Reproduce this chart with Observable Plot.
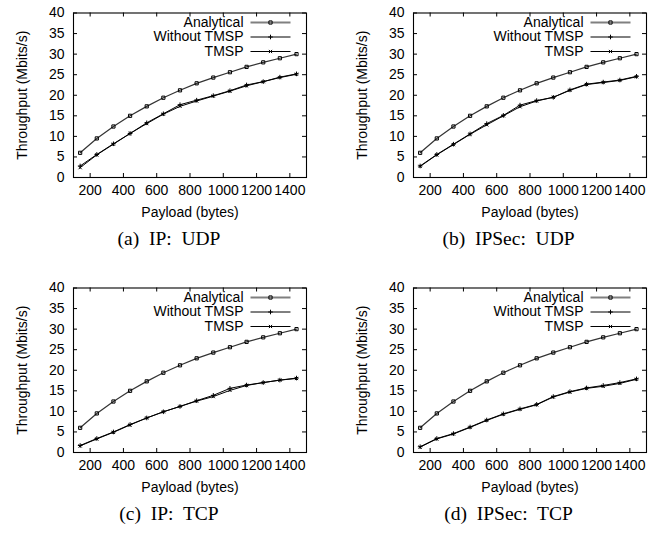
<!DOCTYPE html>
<html><head><meta charset="utf-8">
<script src="https://cdn.jsdelivr.net/npm/d3@7"></script>
<script src="https://cdn.jsdelivr.net/npm/@observablehq/plot@0.6"></script>
<style>
body{margin:0;background:#fff;}
#root{position:relative;width:663px;height:533px;overflow:hidden;background:#fff;}
.cell{position:absolute;width:323px;}
.cell svg{display:block;}
.cap{position:absolute;left:0;width:338px;top:224px;font-family:"Liberation Serif","Times New Roman",serif;font-size:19.5px;line-height:30px;text-align:center;white-space:pre;color:#000;}
</style></head><body><div id="root"></div>
<script>
// ---- data ----
const payload = [140, 240, 340, 440, 540, 640, 740, 840, 940, 1040, 1140, 1240, 1340, 1440];
const seriesNames = ["Analytical", "Without TMSP", "TMSP"];
const captions = ["(a)  IP:  UDP", "(b)  IPSec:  UDP", "(c)  IP:  TCP", "(d)  IPSec:  TCP"];
const xLabel = "Payload (bytes)";
const yLabel = "Throughput (Mbits/s)";
const xTicks = [200, 400, 600, 800, 1000, 1200, 1400];
const yTicks = [0, 5, 10, 15, 20, 25, 30, 35, 40];

const analytical = [6.0, 9.5, 12.4, 15.0, 17.3, 19.4, 21.2, 22.9, 24.3, 25.6, 26.9, 28.0, 29.0, 30.0];

const ipUdpWithout = [2.8, 5.6, 8.2, 10.7, 13.3, 15.5, 17.7, 18.8, 19.9, 21.1, 22.5, 23.3, 24.4, 25.2];
const ipUdpTmsp    = [2.4, 5.5, 8.1, 10.7, 13.1, 15.4, 17.3, 18.6, 19.8, 21.0, 22.3, 23.3, 24.3, 25.1];

const ipsecUdpWithout = [2.8, 5.6, 8.1, 10.6, 13.1, 15.1, 17.6, 18.7, 19.5, 21.3, 22.7, 23.2, 23.7, 24.6];
const ipsecUdpTmsp    = [2.7, 5.5, 8.0, 10.5, 12.8, 15.0, 17.2, 18.6, 19.5, 21.2, 22.6, 23.1, 23.6, 24.5];

const ipTcpWithout = [1.7, 3.4, 5.0, 6.8, 8.4, 9.9, 11.2, 12.6, 13.9, 15.6, 16.4, 17.0, 17.6, 18.1];
const ipTcpTmsp    = [1.6, 3.3, 4.9, 6.7, 8.4, 9.9, 11.2, 12.5, 13.6, 15.1, 16.3, 17.0, 17.6, 18.0];

const ipsecTcpWithout = [1.4, 3.4, 4.6, 6.2, 7.9, 9.4, 10.6, 11.7, 13.6, 14.8, 15.7, 16.3, 17.0, 17.9];
const ipsecTcpTmsp    = [1.3, 3.3, 4.5, 6.1, 7.8, 9.3, 10.5, 11.6, 13.5, 14.7, 15.6, 16.1, 16.8, 17.8];

const panelSeries = [
  [analytical, ipUdpWithout, ipUdpTmsp],
  [analytical, ipsecUdpWithout, ipsecUdpTmsp],
  [analytical, ipTcpWithout, ipTcpTmsp],
  [analytical, ipsecTcpWithout, ipsecTcpTmsp]
];

// ---- styles ----
const W = 323, H = 224, ML = 73, MR = 17, MT = 12.5, MB = 47;
const innerW = W - ML - MR, innerH = H - MT - MB;
const hline = {draw(ctx) { ctx.moveTo(-20, 0); ctx.lineTo(20, 0); }};
const styles = [
  {line: "#333", lw: 1.2, legendLine: "#808080", legendW: 2, symbol: "square", r: 1.8},
  {line: "#000", lw: 1, legendLine: "#000", legendW: 1, symbol: "plus", r: 1.6},
  {line: "#000", lw: 1, legendLine: "#000", legendW: 1, symbol: "times", r: 1.6}
];
const cellPos = [[0, 0], [339.5, 0], [0, 275], [339.5, 275]];

const root = document.getElementById("root");

panelSeries.forEach((series, p) => {
  const rows = [];
  series.forEach((vals, s) => vals.forEach((v, i) => rows.push({series: seriesNames[s], s, x: payload[i], y: v})));

  const marks = [
    Plot.tickX(xTicks, {x: d => d, insetTop: innerH - 4, stroke: "#000"}),
    Plot.tickX(xTicks, {x: d => d, insetBottom: innerH - 4, stroke: "#000"}),
    Plot.tickY(yTicks, {y: d => d, insetRight: innerW - 4, stroke: "#000"}),
    Plot.tickY(yTicks, {y: d => d, insetLeft: innerW - 4, stroke: "#000"})
  ];
  [2, 1, 0].forEach(s => {
    const d = rows.filter(r => r.s === s);
    marks.push(Plot.line(d, {x: "x", y: "y", stroke: styles[s].line, strokeWidth: styles[s].lw}));
    marks.push(Plot.dot(d, {x: "x", y: "y", symbol: styles[s].symbol, r: styles[s].r, stroke: "#000", fill: "none", strokeWidth: 1}));
  });
  // legend
  seriesNames.forEach((name, s) => {
    const dy = 9.5 + 14.5 * s;
    marks.push(Plot.text([name], {text: d => d, frameAnchor: "top-right", dx: -63, dy, textAnchor: "end", lineAnchor: "middle", fill: "#000"}));
    marks.push(Plot.dot([name], {frameAnchor: "top-right", dx: -36, dy, symbol: hline, r: 3, stroke: styles[s].legendLine, strokeWidth: styles[s].legendW}));
    marks.push(Plot.dot([name], {frameAnchor: "top-right", dx: -36, dy, symbol: styles[s].symbol, r: styles[s].r, stroke: "#000", fill: "none", strokeWidth: 1}));
  });
  marks.push(Plot.text([xLabel], {text: d => d, frameAnchor: "bottom", dy: 35, textAnchor: "middle", lineAnchor: "middle", fill: "#000"}));
  marks.push(Plot.text([yLabel], {text: d => d, frameAnchor: "left", dx: -50.5, rotate: -90, textAnchor: "middle", lineAnchor: "middle", fill: "#000"}));
  marks.push(Plot.frame({stroke: "#000", strokeWidth: 1.1}));

  const chart = Plot.plot({
    width: W, height: H,
    marginLeft: ML, marginRight: MR, marginTop: MT, marginBottom: MB,
    style: {fontFamily: "'Liberation Sans', Arial, Helvetica, sans-serif", fontSize: "14px", color: "#000", background: "#fff", overflow: "visible"},
    x: {domain: [100, 1500], ticks: xTicks, tickFormat: d => String(d), tickSize: 0, tickPadding: 8, label: null},
    y: {domain: [0, 40], ticks: yTicks, tickFormat: d => String(d), tickSize: 0, tickPadding: 9, label: null},
    marks
  });
  const cell = document.createElement("div");
  cell.className = "cell";
  cell.style.left = cellPos[p][0] + "px";
  cell.style.top = cellPos[p][1] + "px";
  cell.appendChild(chart);
  const cap = document.createElement("div");
  cap.className = "cap";
  cap.textContent = captions[p];
  cell.appendChild(cap);
  root.appendChild(cell);
});
</script>
</body></html>
